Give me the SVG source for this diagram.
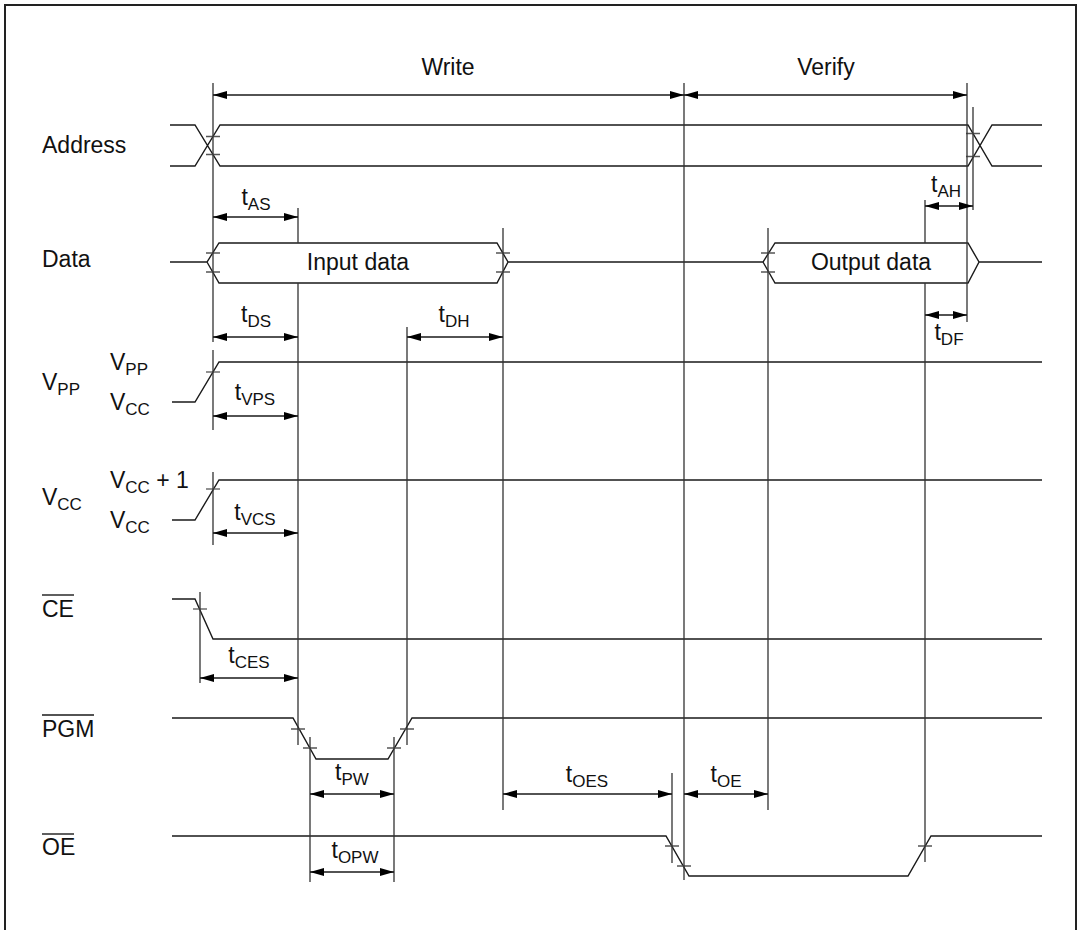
<svg xmlns="http://www.w3.org/2000/svg" width="1080" height="930" viewBox="0 0 1080 930">
<defs>
<marker id="ah" viewBox="0 0 14 8" refX="14" refY="4" markerWidth="14" markerHeight="8" markerUnits="userSpaceOnUse" orient="auto-start-reverse"><path d="M0,0 L14,4 L0,8 z" fill="#000"/></marker>
<style>
.s{fill:none;stroke:#1a1a1a;stroke-width:1.4}
.g{fill:none;stroke:#333;stroke-width:1.3}
.tk{fill:none;stroke:#555;stroke-width:1.3}
.d{fill:none;stroke:#1a1a1a;stroke-width:1.3;marker-start:url(#ah);marker-end:url(#ah)}
text{font-family:"Liberation Sans",Arial,sans-serif;font-size:23px;fill:#111}
.c{text-anchor:middle}
.sb{font-size:17px}
</style>
</defs>
<rect x="5" y="5" width="1071" height="940" fill="#fff" stroke="#222" stroke-width="2"/>

<g id="labels">
<text x="448" y="75" class="c">Write</text>
<text x="826" y="75" class="c">Verify</text>
</g>

<g id="address">
<text x="42" y="153">Address</text>
<path class="s" d="M170,125 H195 L220,166 H968 L992,125 H1042 M170,166 H195 L220,125 H968 L992,166 H1042"/>
<path class="tk" d="M206,136.5 H220 M206,154.5 H220 M966,133.5 H980 M966,156.5 H980"/>
</g>

<g id="data">
<text x="42" y="267">Data</text>
<path class="s" d="M170,262 H207 L219,243 H497 L508,262 L497,283 H219 L207,262 M508,262 H763 L775,243 H968 L979,262 L968,283 H775 L763,262 M979,262 H1042"/>
<text x="358" y="270" class="c">Input data</text>
<text x="871" y="270" class="c">Output data</text>
<path class="tk" d="M206,253 H220 M206,272 H220 M496,253 H510 M496,272 H510 M761,253 H775 M761,272 H775"/>
</g>

<g id="vpp">
<text x="42" y="390">V<tspan class="sb" dy="5">PP</tspan></text>
<text x="110" y="370">V<tspan class="sb" dy="5">PP</tspan></text>
<text x="110" y="410">V<tspan class="sb" dy="5">CC</tspan></text>
<path class="s" d="M172,402 H195 L219,362 H1042"/>
<path class="tk" d="M206,372 H220"/>
</g>

<g id="vcc">
<text x="42" y="505">V<tspan class="sb" dy="5">CC</tspan></text>
<text x="110" y="488">V<tspan class="sb" dy="5">CC</tspan><tspan dy="-5"> + 1</tspan></text>
<text x="110" y="528">V<tspan class="sb" dy="5">CC</tspan></text>
<path class="s" d="M172,520 H195 L219,480 H1042"/>
<path class="tk" d="M206,489 H220"/>
</g>

<g id="ce">
<text x="42" y="617">CE</text>
<path class="s" d="M42,595 H74"/>
<path class="s" d="M172,599 H195 L213,639 H1042"/>
<path class="tk" d="M193,609 H207"/>
</g>

<g id="pgm">
<text x="42" y="737">PGM</text>
<path class="s" d="M42,715 H94"/>
<path class="s" d="M172,718 H293 L316,759 H388 L412,718 H1042"/>
<path class="tk" d="M291,729 H305 M303,748 H317 M387,748 H401 M400,729 H414"/>
</g>

<g id="oe">
<text x="42" y="855">OE</text>
<path class="s" d="M42,834 H74"/>
<path class="s" d="M172,836 H666 L689,876 H908 L931,836 H1042"/>
<path class="tk" d="M665,846 H679 M677,866 H691 M918,846 H932"/>
</g>

<g id="timing-labels">
<text x="256" y="205" class="c">t<tspan class="sb" dy="5">AS</tspan></text>
<text x="256" y="322" class="c">t<tspan class="sb" dy="5">DS</tspan></text>
<text x="454" y="322" class="c">t<tspan class="sb" dy="5">DH</tspan></text>
<text x="946" y="192" class="c">t<tspan class="sb" dy="5">AH</tspan></text>
<text x="949" y="340" class="c">t<tspan class="sb" dy="5">DF</tspan></text>
<text x="255" y="400" class="c">t<tspan class="sb" dy="5">VPS</tspan></text>
<text x="255" y="520" class="c">t<tspan class="sb" dy="5">VCS</tspan></text>
<text x="249" y="663" class="c">t<tspan class="sb" dy="5">CES</tspan></text>
<text x="352" y="780" class="c">t<tspan class="sb" dy="5">PW</tspan></text>
<text x="355" y="858" class="c">t<tspan class="sb" dy="5">OPW</tspan></text>
<text x="587" y="782" class="c">t<tspan class="sb" dy="5">OES</tspan></text>
<text x="726" y="782" class="c">t<tspan class="sb" dy="5">OE</tspan></text>
</g>

<g id="connectors">
<path class="g" d="M213,83 V342 M213,350 V430 M213,472 V545 M298,208 V243 M298,283 V745 M407,327 V745 M503,228 V810 M684,83 V880 M768,228 V810 M925,200 V243 M925,283 V862 M967,83 V322 M973,107 V210 M672,773 V863 M200,592 V683 M310,737 V882 M394,737 V882"/>
<line class="d" x1="213" y1="95" x2="684" y2="95"/>
<line class="d" x1="684" y1="95" x2="967" y2="95"/>
<line class="d" x1="213" y1="217" x2="298" y2="217"/>
<line class="d" x1="213" y1="337" x2="298" y2="337"/>
<line class="d" x1="407" y1="337" x2="503" y2="337"/>
<line class="d" x1="925" y1="206" x2="973" y2="206"/>
<line class="d" x1="925" y1="315" x2="967" y2="315"/>
<line class="d" x1="213" y1="416" x2="298" y2="416"/>
<line class="d" x1="213" y1="533" x2="298" y2="533"/>
<line class="d" x1="200" y1="678" x2="298" y2="678"/>
<line class="d" x1="310" y1="794" x2="394" y2="794"/>
<line class="d" x1="310" y1="872" x2="394" y2="872"/>
<line class="d" x1="503" y1="794" x2="672" y2="794"/>
<line class="d" x1="684" y1="794" x2="768" y2="794"/>
</g>
</svg>
